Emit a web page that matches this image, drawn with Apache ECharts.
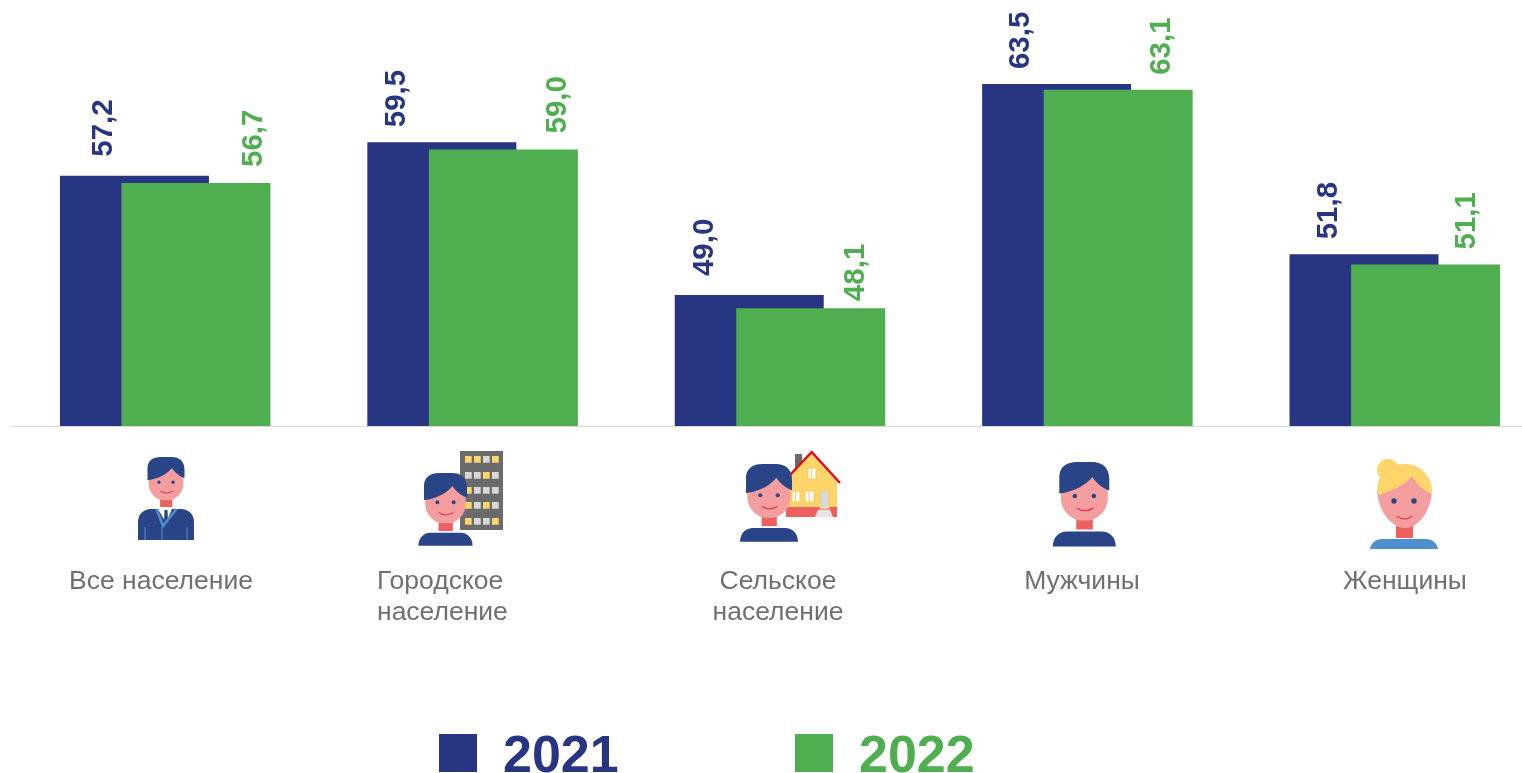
<!DOCTYPE html>
<html><head><meta charset="utf-8">
<style>html,body{margin:0;padding:0;background:#fff;overflow:hidden;width:1522px;height:773px}#c{width:1549px;height:773px}</style>
<script src="https://cdn.jsdelivr.net/npm/echarts@6/dist/echarts.min.js"></script>
</head><body><div id="c"></div>
<script>
const categories = ['Все население','Городское население','Сельское население','Мужчины','Женщины'];
const seriesNames = ['2021','2022'];
const values2021 = [57.2,59.5,49.0,63.5,51.8];
const values2022 = [56.7,59.0,48.1,63.1,51.1];

const NAVY='#283583', GREEN='#4fae50', HAIR='#2a4488', SKIN='#f49ea0', NECK='#ee6060', YEL='#fdd56b', GREY='#d9d9d9', BLUE='#4f8fd0';
const labelShift2021 = [-31,-45,-44,-36,-35];
const labelShift2022 = [58,54,45,44,41];
const labelGap2021 = [19,15,19,15,15];
const labelGap2022 = [16,16,7,15,15];
const captionLines = [['Все население'],['Городское','население'],['Сельское','население'],['Мужчины'],['Женщины']];
const captionPos = [{x:161,a:'center'},{x:377,a:'left'},{x:778,a:'center'},{x:1082,a:'center'},{x:1405,a:'center'}];
const legendTextX = [503,859];
const legendColors = [NAVY,GREEN];

function head(x,y,s,body){
  return `<g transform="translate(${x} ${y}) scale(${s})">`+
  `<rect x="34" y="110" width="33" height="25" fill="${NECK}"/>`+
  `<path d="M3 20L3 72C3 100 28 117 42 117L58 117C72 117 97 100 97 72L97 20Z" fill="${SKIN}"/>`+
  `<path d="M0 63L0 30C0 10 15 0 35 0L65 0C85 0 100 10 100 35L100 57C85 52 72 40 66 30C55 45 30 60 0 63Z" fill="${HAIR}"/>`+
  `<circle cx="31" cy="68" r="4.5" fill="${HAIR}"/><circle cx="69" cy="68" r="4.5" fill="${HAIR}"/>`+
  `<path d="M35 92Q50 103 68 92" fill="none" stroke="#ea3a5a" stroke-width="3"/>`+
  (body?`<path d="M-13 169C-13 150 0 139 15 139L85 139C100 139 113 150 113 169Z" fill="${HAIR}"/>`:'')+`</g>`;
}
function building(){
  const xs=[465,474,483,492], ys=[456,472,487,502,518];
  const map=['YYGY','GGYG','YGGG','YGYG','YGGY'];
  let s=`<rect x="460" y="451" width="43" height="79" fill="#6b6b6b"/>`;
  ys.forEach((y,r)=>xs.forEach((x,c)=>{s+=`<rect x="${x}" y="${y}" width="6.7" height="6.7" fill="${map[r][c]==='Y'?YEL:GREY}"/>`;}));
  return s;
}
function house(){
  const win=(x,y,w,h)=>`<rect x="${x}" y="${y}" width="${w}" height="${h}" fill="#fff" stroke="#fbc85a"/><line x1="${x+w*0.45}" y1="${y}" x2="${x+w*0.45}" y2="${y+h}" stroke="#fbc85a"/>`;
  return `<rect x="795" y="454" width="7" height="22" fill="#6b6b6b"/>`+
  `<path d="M811.7 452L837 482L837 510L787 510L787 478Z" fill="${YEL}"/>`+
  `<rect x="786" y="507" width="51" height="10" fill="${NECK}"/>`+
  `<path d="M790 475L811.7 452L840 483" fill="none" stroke="#e30b1c" stroke-width="2.5"/>`+
  win(808,468,8,11)+win(792,491,8,11)+win(805,491,9,11)+
  `<rect x="820" y="491" width="9" height="18" fill="${GREY}" stroke="#fbc85a"/>`+
  `<path d="M818 510L830 510L833 517L815 517Z" fill="#e6e6e6"/>`;
}
function suit(){
  return `<path d="M138 540L138 522C138 514 144 509 151 509L181 509C188 509 194 514 194 522L194 540Z" fill="${HAIR}"/>`+
  `<path d="M158 509L172 509L166 523Z" fill="#fff"/><path d="M164.5 510L167.5 510L168 522L166 526L164 522Z" fill="${HAIR}"/>`+
  `<path d="M156.5 509L163 526L176.5 509" fill="none" stroke="${BLUE}" stroke-width="2.5"/>`+
  `<path d="M145 527V540M187 527V540M162 526V540" fill="none" stroke="${BLUE}" stroke-width="1"/>`;
}
function woman(){
  return `<rect x="1396" y="522" width="17" height="16" fill="${NECK}"/>`+
  `<path d="M1377 490C1378 512 1392 528 1405 528C1418 528 1431 512 1432 490L1405 468Z" fill="${SKIN}"/>`+
  `<circle cx="1388" cy="470" r="11" fill="${YEL}"/>`+
  `<path d="M1378 495C1374 472 1392 464 1405 464C1422 464 1433 478 1432 494C1422 490 1415 482 1412 476C1405 485 1392 491 1378 495Z" fill="${YEL}"/>`+
  `<circle cx="1394" cy="501" r="2.7" fill="${HAIR}"/><circle cx="1414" cy="501" r="2.7" fill="${HAIR}"/>`+
  `<path d="M1397 516Q1405 522 1412 516" fill="none" stroke="#ea3a5a" stroke-width="1.3"/>`+
  `<path d="M1370 549C1371 543 1376 539 1382 539L1426 539C1432 539 1437 543 1438 549Z" fill="${BLUE}"/>`;
}
const art = suit()+head(147.5,457,0.37,false)+building()+head(424,473,0.43,true)+house()+head(746,464,0.46,true)+head(1059.3,462,0.5,true)+woman();
const svg = `<svg xmlns="http://www.w3.org/2000/svg" width="1522" height="773" viewBox="0 0 1522 773">${art}</svg>`;

const captions=[];
captionLines.forEach((lines,i)=>{
  captions.push({type:'text',silent:true,style:{
    text:lines.join('\n'),x:captionPos[i].x,y:566,align:captionPos[i].a,verticalAlign:'top',
    font:'26.5px "Liberation Sans"',fill:'#707070',lineHeight:31}});
});
const legendTexts=seriesNames.map((n,i)=>({type:'text',silent:true,style:{
  text:n,x:legendTextX[i],y:758,align:'left',verticalAlign:'middle',
  font:'bold 52px "Liberation Sans"',fill:legendColors[i]}}));

const mkData=(vals,shift,gap)=>vals.map((v,i)=>({value:v,label:{offset:[gap[i],shift[i]]}}));
const mkSeries=(name,vals,shift,gap,color)=>({
  name,type:'bar',data:mkData(vals,shift,gap),barWidth:149,barGap:'-58.7%',
  itemStyle:{color},
  label:{show:true,position:'top',rotate:90,align:'left',verticalAlign:'middle',distance:0,
    formatter:p=>p.value.toFixed(1).replace('.',','),
    color,fontFamily:'Liberation Sans',fontWeight:'bold',fontSize:29.5}
});

const chart=echarts.init(document.getElementById('c'),null,{renderer:'canvas'});
chart.setOption({
  animation:false,
  backgroundColor:'#fff',
  grid:{left:11.5,right:0.5,top:4,height:422},
  xAxis:{type:'category',data:categories,axisLine:{lineStyle:{color:'#d9d9d9',width:1}},axisTick:{show:false},axisLabel:{show:false}},
  yAxis:{type:'value',min:40,max:69,show:false,splitLine:{show:false}},
  legend:{left:439,top:734,padding:0,itemWidth:38,itemHeight:38,itemGap:318,icon:'rect',
    data:seriesNames,formatter:()=>'',textStyle:{fontSize:10,padding:0}},
  series:[mkSeries(seriesNames[0],values2021,labelShift2021,labelGap2021,NAVY),mkSeries(seriesNames[1],values2022,labelShift2022,labelGap2022,GREEN)],
  graphic:[{type:'image',silent:true,style:{image:'data:image/svg+xml;charset=utf-8,'+encodeURIComponent(svg),x:0,y:0,width:1522,height:773}},...captions,...legendTexts]
});
</script></body></html>
